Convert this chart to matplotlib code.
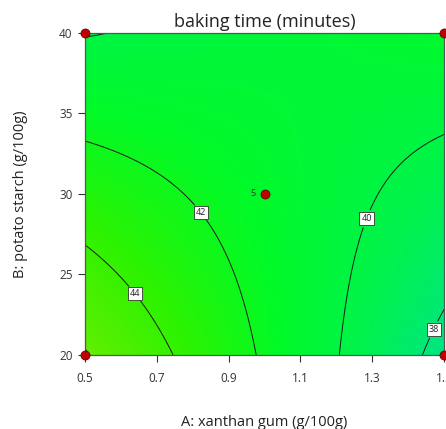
import numpy as np
import matplotlib.pyplot as plt
from matplotlib.colors import LinearSegmentedColormap

# factor ranges
xanthan_range = [0.5, 1.5]      # A: g/100g
starch_range = [20, 40]         # B: g/100g

# fitted 2FI model in coded units: intercept, A, B, AB
b0, bA, bB, bAB = 41.17, -1.85, -0.63, 2.47

contour_levels = [38, 40, 42, 44, 46]
label_spots = [(0.65, 24.0), (0.83, 29.0), (1.28, 28.5), (1.45, 21.8)]

# design points (factorial corners + centre with 5 replicates)
design_A = [0.5, 0.5, 1.5, 1.5, 1.0]
design_B = [20, 40, 20, 40, 30]
centre_reps = 5

xticks = [0.5, 0.7, 0.9, 1.1, 1.3, 1.5]
yticks = [20, 25, 30, 35, 40]


def baking_time(A, B):
    a = (A - 1.0) / 0.5
    b = (B - 30.0) / 10.0
    return b0 + bA * a + bB * b + bAB * a * b


A = np.linspace(*xanthan_range, 300)
B = np.linspace(*starch_range, 300)
AA, BB = np.meshgrid(A, B)
Z = baking_time(AA, BB)

cmap = LinearSegmentedColormap.from_list('de', [
    (0.0, (0.0, 0.89, 0.55)),
    (0.25, (0.0, 0.95, 0.30)),
    (0.45, (0.0, 0.98, 0.16)),
    (0.7, (0.18, 0.95, 0.0)),
    (1.0, (0.42, 0.93, 0.0)),
])

plt.rcParams['font.family'] = ['Open Sans', 'DejaVu Sans']

fig = plt.figure(figsize=(4.46, 4.29), dpi=100)
ax = fig.add_axes([0.1906, 0.1725, 0.805, 0.7506])

ax.pcolormesh(AA, BB, Z, cmap=cmap, vmin=37.2, vmax=46.4, shading='gouraud')
cs = ax.contour(AA, BB, Z, levels=contour_levels, colors='#1a1a1a', linewidths=0.7)
labels = ax.clabel(cs, fmt='%d', fontsize=6.5, inline=True, inline_spacing=4,
                   manual=label_spots)
for t in labels:
    t.set_rotation(0)
    t.set_color('#222222')
    t.set_bbox(dict(facecolor='white', edgecolor='#333333', pad=1.3, linewidth=0.6))

ax.scatter(design_A, design_B, s=42, color='#c00000', edgecolors='#700000',
           linewidths=0.6, zorder=5, clip_on=False)
ax.text(design_A[-1] - 0.025, design_B[-1], str(centre_reps), fontsize=6.5,
        ha='right', va='center', color='#333333')

ax.set_xlim(xanthan_range)
ax.set_ylim(starch_range)
ax.set_xticks(xticks)
ax.set_xticklabels(['0.5', '0.7', '0.9', '1.1', '1.3', '1.5'])
ax.set_yticks(yticks)
ax.tick_params(labelsize=8.5, length=5, width=0.8, colors='#333333', pad=4)
ax.tick_params(axis='x', pad=7)

for s in ax.spines.values():
    s.set_color('#555555')
    s.set_linewidth(0.9)

ax.set_title('baking time (minutes)', fontsize=13, color='#222222', pad=4)
ax.set_xlabel('A: xanthan gum (g/100g)', fontsize=10.5, color='#222222', labelpad=22)
ax.set_ylabel('B: potato starch (g/100g)', fontsize=10.5, color='#222222', labelpad=22)

fig.savefig('out.png', dpi=100)
